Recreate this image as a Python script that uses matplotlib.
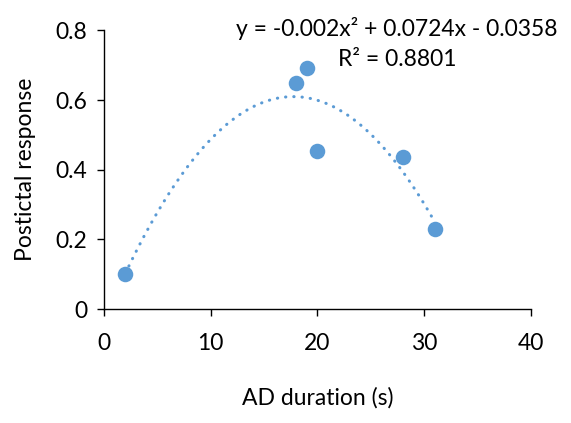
import numpy as np
import matplotlib
matplotlib.use("Agg")
import matplotlib.pyplot as plt

plt.rcParams['font.family'] = ['Lato', 'DejaVu Sans']

ad_duration = [2, 18, 19, 20, 28, 31]
postictal = [0.100, 0.648, 0.692, 0.455, 0.436, 0.230]
x_ticks = [0, 10, 20, 30, 40]
y_ticks = [0, 0.2, 0.4, 0.6, 0.8]
y_ticklabels = ["0", "0.2", "0.4", "0.6", "0.8"]
eq_text = "y = -0.002x² + 0.0724x - 0.0358"
r2_text = "R² = 0.8801"

color = "#5B9BD5"
fs = 16.5

fig = plt.figure(figsize=(5.71, 4.23), dpi=100)
ax = fig.add_axes([0.182, 0.2695, 0.748, 0.6585])

coef = np.polyfit(ad_duration, postictal, 2)
xs = np.linspace(min(ad_duration), max(ad_duration), 200)
ax.plot(xs, np.polyval(coef, xs), color=color, lw=2.2,
        linestyle=(0, (0.1, 2.6)), dash_capstyle='round', zorder=2)
ax.scatter(ad_duration, postictal, s=125, color=color, zorder=3, linewidths=0)

ax.set_xlim(0, 40)
ax.set_ylim(0, 0.8)
ax.set_xticks(x_ticks)
ax.set_yticks(y_ticks)
ax.set_yticklabels(y_ticklabels)
for s in ['top', 'right']:
    ax.spines[s].set_visible(False)
for s in ['left', 'bottom']:
    ax.spines[s].set_linewidth(1.0)
    ax.spines[s].set_color('black')
ax.tick_params(axis='both', direction='out', length=5, width=1.0, labelsize=fs, colors='black')
ax.tick_params(axis='x', pad=12)
ax.tick_params(axis='y', pad=7)

ax.set_xlabel("AD duration (s)", fontsize=fs, labelpad=24)
ax.set_ylabel("Postictal response", fontsize=fs, labelpad=14)

fig.text(397/571, 1 - 28/423, eq_text, fontsize=fs, ha='center', va='center')
fig.text(397/571, 1 - 60/423, r2_text, fontsize=fs, ha='center', va='center')

fig.savefig("out.png", dpi=100)
